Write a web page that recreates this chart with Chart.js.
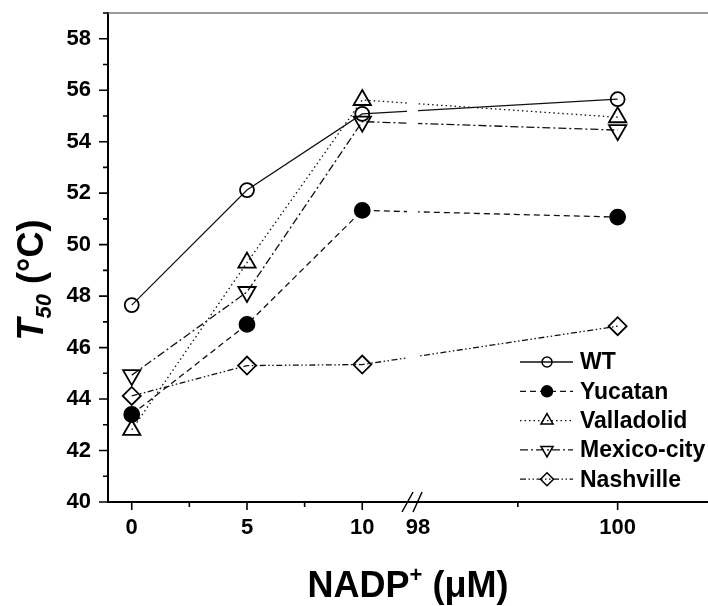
<!DOCTYPE html>
<html><head><meta charset="utf-8">
<script src="https://cdn.jsdelivr.net/npm/chart.js@4.4.0/dist/chart.umd.min.js"></script>
<style>html,body{margin:0;padding:0;background:#fff;}</style>
</head><body>
<canvas id="c" width="708" height="606"></canvas>
<script>
// ---- data ----
const categories = [0, 5, 10, 100];           // NADP+ (µM)
const seriesNames = ['WT', 'Yucatan', 'Valladolid', 'Mexico-city', 'Nashville'];
const wtValues         = [47.65, 52.12, 55.08, 55.65];
const yucatanValues    = [43.40, 46.90, 51.33, 51.07];
const valladolidValues = [42.80, 49.30, 55.62, 54.95];
const mexicoValues     = [44.93, 48.16, 54.78, 54.45];
const nashvilleValues  = [44.12, 45.30, 45.34, 46.83];
const xTickValues  = [0, 5, 10, 98, 100];
const xTickLabels  = ['0', '5', '10', '98', '100'];
const xMinorValues = [2.5, 7.5, 99];
const yTickValues  = [40, 42, 44, 46, 48, 50, 52, 54, 56, 58];
const yMinorValues = [41, 43, 45, 47, 49, 51, 53, 55, 57, 59];

// ---- broken x axis mapping (display units) ----
const SEG1_END = 12;
const SEG2_START = 98, SEG2_U = 12.42, SEG2_K = 4.33;
const BREAK_U = 12.16;
function toU(x) { return x <= SEG1_END ? x : SEG2_U + (x - SEG2_START) * SEG2_K; }

const FONT = "'Liberation Sans', Arial, Helvetica, sans-serif";

const styles = [
  { dash: [], style: 'circle', r: 7, fill: 'rgba(0,0,0,0)', rot: 0, lr: 5 },
  { dash: [6, 4], style: 'circle', r: 7.5, fill: '#000', rot: 0, lr: 5.5 },
  { dash: [1.5, 3], style: 'triangle', r: 10, fill: 'rgba(0,0,0,0)', rot: 0, lr: 7 },
  { dash: [8, 3, 2, 3], style: 'triangle', r: 10, fill: 'rgba(0,0,0,0)', rot: 180, lr: 7 },
  { dash: [6, 2.5, 1.5, 2.5, 1.5, 2.5], style: 'rectRot', r: 9, fill: 'rgba(0,0,0,0)', rot: 0, lr: 6.5 }
];
const allValues = [wtValues, yucatanValues, valladolidValues, mexicoValues, nashvilleValues];

const datasets = allValues.map((vals, i) => ({
  label: seriesNames[i],
  data: categories.map((x, j) => ({ x: toU(x), y: vals[j] })),
  borderColor: '#111',
  borderWidth: 1.3,
  borderDash: styles[i].dash,
  pointStyle: styles[i].style,
  pointRadius: styles[i].r,
  pointRotation: styles[i].rot,
  pointBackgroundColor: styles[i].fill,
  pointBorderColor: '#000',
  pointBorderWidth: 1.8,
  fill: false,
  tension: 0
}));

const decor = {
  id: 'decor',
  afterDatasetsDraw(chart) {
    const { ctx, chartArea: a, scales: { x } } = chart;
    const bx = x.getPixelForValue(BREAK_U);
    ctx.save();
    ctx.fillStyle = '#fff';
    ctx.fillRect(bx - 5, a.top + 1.5, 11, a.bottom - a.top - 3);
    ctx.restore();
  },
  afterDraw(chart) {
    const { ctx, chartArea: a, scales: { x, y } } = chart;
    ctx.save();
    // top frame line
    ctx.strokeStyle = '#777';
    ctx.lineWidth = 1.5;
    ctx.beginPath(); ctx.moveTo(a.left, a.top); ctx.lineTo(a.right, a.top); ctx.stroke();
    // ticks
    ctx.strokeStyle = '#000';
    ctx.lineWidth = 1.6;
    ctx.beginPath();
    xTickValues.forEach(v => { if (v === 98) return; const px = x.getPixelForValue(toU(v)); ctx.moveTo(px, a.bottom); ctx.lineTo(px, a.bottom + 8); });
    xMinorValues.forEach(v => { const px = x.getPixelForValue(toU(v)); ctx.moveTo(px, a.bottom); ctx.lineTo(px, a.bottom + 5); });
    yTickValues.forEach(v => { const py = y.getPixelForValue(v); ctx.moveTo(a.left, py); ctx.lineTo(a.left - 9, py); });
    yMinorValues.forEach(v => { const py = y.getPixelForValue(v); ctx.moveTo(a.left, py); ctx.lineTo(a.left - 5, py); });
    ctx.stroke();
    // axis break marks
    const bx = x.getPixelForValue(BREAK_U);
    ctx.lineWidth = 1.5;
    ctx.beginPath();
    ctx.moveTo(bx - 10, a.bottom + 10); ctx.lineTo(bx + 1, a.bottom - 10);
    ctx.moveTo(bx + 1, a.bottom + 10); ctx.lineTo(bx + 10, a.bottom - 10);
    ctx.stroke();

    // legend
    const lx0 = 520, lx1 = 573, lmx = 547, ltx = 580, ly0 = 362, ldy = 29.3;
    ctx.font = 'bold 23px ' + FONT;
    ctx.textBaseline = 'middle';
    ctx.textAlign = 'left';
    seriesNames.forEach((name, i) => {
      const ly = ly0 + i * ldy;
      ctx.save();
      ctx.strokeStyle = '#111';
      ctx.lineWidth = 1.3;
      ctx.setLineDash(styles[i].dash);
      ctx.beginPath(); ctx.moveTo(lx0, ly); ctx.lineTo(lx1, ly); ctx.stroke();
      ctx.restore();
      ctx.save();
      ctx.strokeStyle = '#000';
      ctx.fillStyle = styles[i].fill;
      ctx.lineWidth = 1.5;
      Chart.helpers.drawPoint(ctx, { pointStyle: styles[i].style, radius: styles[i].lr, rotation: styles[i].rot, borderWidth: 1.5 }, lmx, ly);
      ctx.restore();
      ctx.fillStyle = '#000';
      ctx.fillText(name, ltx, ly + 1);
    });

    // y title: T50 (°C)
    ctx.save();
    ctx.translate(43, 280);
    ctx.rotate(-Math.PI / 2);
    ctx.fillStyle = '#000';
    ctx.textBaseline = 'alphabetic';
    const fT = 'italic bold 36px ' + FONT, fS = 'italic bold 22px ' + FONT, fR = 'bold 36px ' + FONT;
    ctx.font = fT; const wT = ctx.measureText('T').width;
    ctx.font = fS; const wS = ctx.measureText('50').width;
    ctx.font = fR; const wR = ctx.measureText(' (°C)').width;
    let sx = -(wT + wS + wR) / 2;
    ctx.font = fT; ctx.fillText('T', sx, 0); sx += wT;
    ctx.font = fS; ctx.fillText('50', sx, 8); sx += wS;
    ctx.font = fR; ctx.fillText(' (°C)', sx, 0);
    ctx.restore();

    // x title: NADP+ (µM)
    ctx.save();
    ctx.fillStyle = '#000';
    ctx.textBaseline = 'alphabetic';
    const f1 = 'bold 36px ' + FONT, f2 = 'bold 22px ' + FONT;
    ctx.font = f1; const w1 = ctx.measureText('NADP').width;
    ctx.font = f2; const w2 = ctx.measureText('+').width;
    ctx.font = f1; const w3 = ctx.measureText(' (\u03BCM)').width;
    let tx = (a.left + a.right) / 2 - (w1 + w2 + w3) / 2;
    const by = 597;
    ctx.font = f1; ctx.fillText('NADP', tx, by); tx += w1;
    ctx.font = f2; ctx.fillText('+', tx, by - 15); tx += w2;
    ctx.font = f1; ctx.fillText(' (\u03BCM)', tx, by);
    ctx.restore();
    ctx.restore();
  }
};

new Chart(document.getElementById('c'), {
  type: 'line',
  data: { datasets },
  options: {
    responsive: false,
    animation: false,
    layout: { autoPadding: false, padding: { top: 13, left: 0, right: 0, bottom: 0 } },
    plugins: { legend: { display: false }, tooltip: { enabled: false } },
    scales: {
      x: {
        type: 'linear', min: -1.03, max: 25.0,
        afterBuildTicks: s => { s.ticks = xTickValues.map(v => ({ value: toU(v) })); },
        ticks: {
          callback: (val, i) => xTickLabels[i],
          font: { family: FONT, size: 22, weight: 'bold' }, color: '#000',
          padding: 5, maxRotation: 0, autoSkip: false
        },
        grid: { display: false, drawTicks: true, tickLength: 8 },
        border: { display: true, color: '#000', width: 2 },
        afterFit: s => { s.height = 104; s.paddingLeft = 0; s.paddingRight = 0; }
      },
      y: {
        type: 'linear', min: 40, max: 59,
        afterBuildTicks: s => { s.ticks = yTickValues.map(v => ({ value: v })); },
        ticks: {
          font: { family: FONT, size: 22, weight: 'bold' }, color: '#000',
          padding: 8
        },
        grid: { display: false, drawTicks: true, tickLength: 9 },
        border: { display: true, color: '#000', width: 2 },
        afterFit: s => { s.width = 108; s.paddingTop = 0; s.paddingBottom = 0; }
      }
    }
  },
  plugins: [decor]
});
</script>
</body></html>
